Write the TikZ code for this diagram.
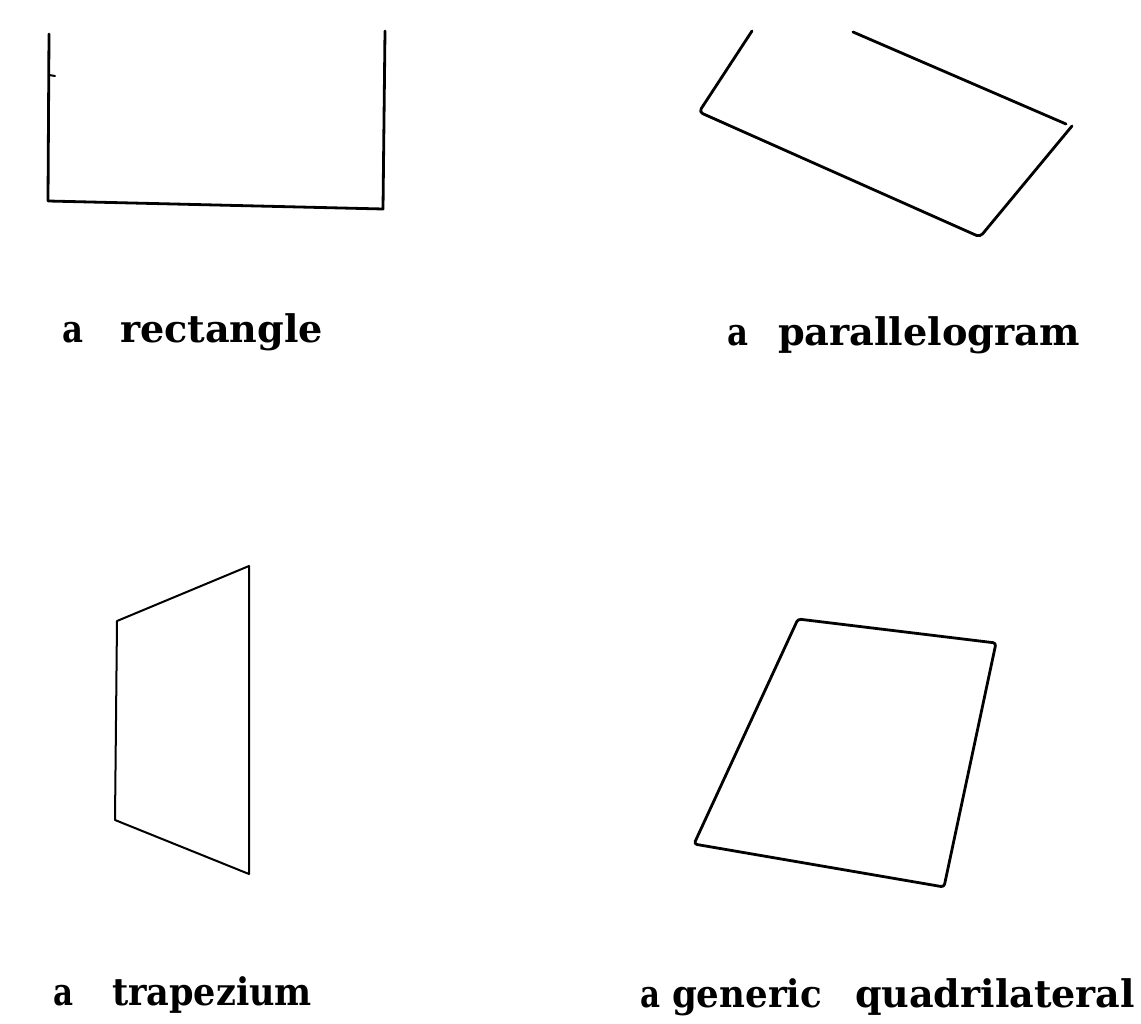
\documentclass[tikz,border=0pt]{standalone}
\usepackage{fontspec}
\usepackage{graphicx}
\newfontfamily\labfont{DejaVu Serif}
\newcommand\fitw[2]{\resizebox{#1}{\height}{#2}}
\tikzset{
  shapeline/.style={line width=2.8pt, line join=round, line cap=round, black},
  thinline/.style={line width=2.0pt, line join=round, line cap=round, black},
  lab/.style={anchor=base west, inner sep=0pt, outer sep=0pt, font=\labfont\bfseries\fontsize{38}{40}\selectfont}
}
\begin{document}
\begin{tikzpicture}[x=1pt,y=-1pt]
\useasboundingbox (0,0) rectangle (1141,1024);
\fill[white] (0,0) rectangle (1141,1024);
% rectangle (top open)
\draw[shapeline] (49,34) -- (48,201) -- (383,209) -- (385,31);
\draw[thinline] (49,75) -- (55,76);
% parallelogram (top open)
\draw[shapeline, rounded corners=4pt] (752,31) -- (699,112) -- (980,237) -- (1072,126);
\draw[shapeline] (853,32) -- (1066,124);
% trapezium
\draw[thinline] (117,621) -- (249,566) -- (249,874) -- (115,820) -- cycle;
% generic quadrilateral
\draw[shapeline, rounded corners=3pt] (798,619) -- (996,643) -- (944,887) -- (694,844) -- cycle;
% labels
\node[lab] (ra) at (63,343) {\fitw{21pt}{a}};
\node[lab] (rw) at (120,343) {\fitw{203pt}{rectangle}};
\node[lab] (pa) at (727,345) {\fitw{21pt}{a}};
\node[lab] (pw) at (778,345) {\fitw{302pt}{parallelogram}};
\node[lab] (ta) at (53,1005) {\fitw{20pt}{a}};
\node[lab] (tw) at (112,1005) {\fitw{200pt}{trapezium}};
\node[lab] (ga) at (640,1007) {\fitw{20pt}{a}};
\node[lab] (gw) at (672,1007) {\fitw{150pt}{generic}};
\node[lab] (gq) at (855,1007) {\fitw{280pt}{quadrilateral}};
\end{tikzpicture}
\end{document}
